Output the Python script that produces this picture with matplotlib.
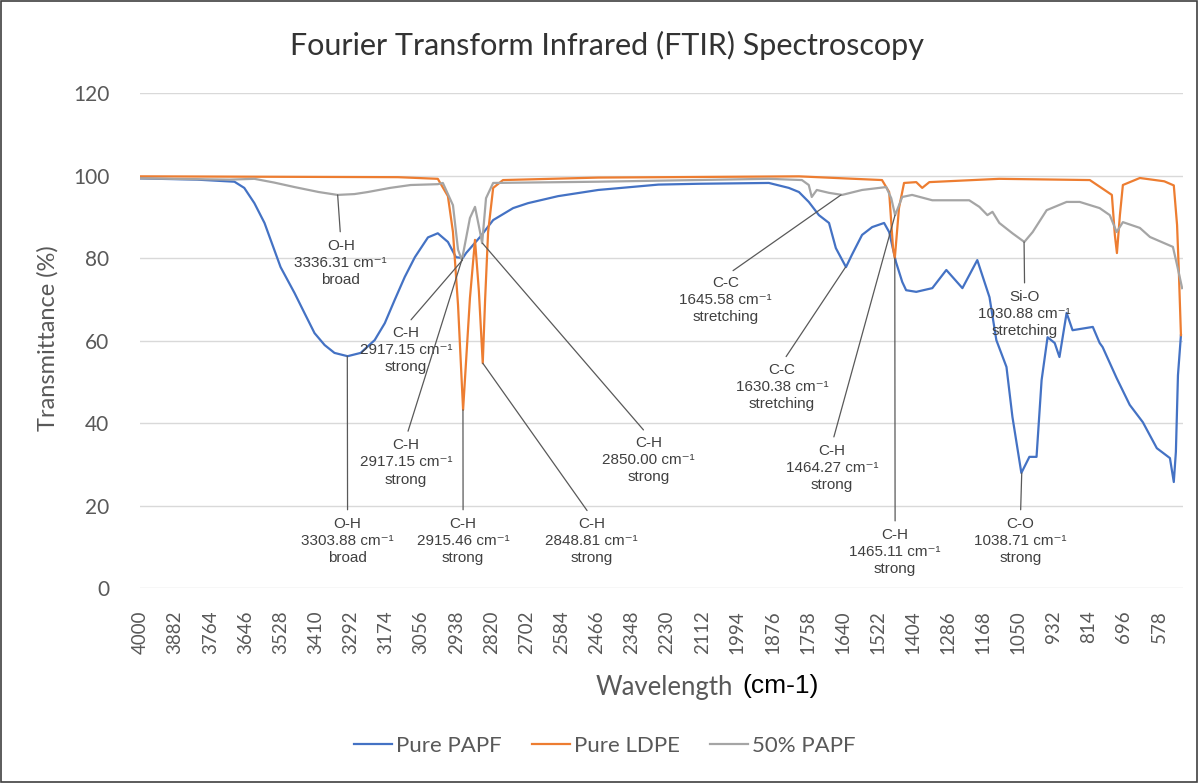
import numpy as np
import matplotlib
matplotlib.use("Agg")
import matplotlib.pyplot as plt
from matplotlib.patches import Rectangle

# --------------------------------
# DATA (wavenumber cm-1, transmittance %)
# --------------------------------

papf_wn = [4000, 3808, 3683, 3650, 3616, 3582, 3528, 3481, 3448, 3414, 3380,
           3347, 3303, 3259, 3212, 3178, 3145, 3111, 3077, 3033, 3000, 2966,
           2939, 2916, 2905, 2858, 2814, 2747, 2697, 2596, 2461, 2259, 2124,
           1888, 1821, 1787, 1754, 1720, 1686, 1663, 1629, 1609, 1575, 1541,
           1501, 1484, 1461, 1440, 1427, 1393, 1339, 1292, 1238, 1188, 1147,
           1124, 1090, 1070, 1040, 1013, 989, 972, 952, 928, 912, 888, 868,
           800, 777, 767, 720, 676, 632, 585, 541, 528, 521, 514, 504]
papf_t = [99.3, 99.0, 98.5, 97.0, 93.3, 88.5, 77.8, 71.5, 66.7, 61.8, 58.9,
          57.0, 56.2, 57.0, 60.1, 64.2, 69.8, 75.4, 80.2, 85.0, 86.0, 83.9,
          80.2, 80.0, 81.2, 85.1, 89.2, 92.1, 93.3, 95.0, 96.5, 97.8, 98.0,
          98.2, 97.0, 96.0, 93.6, 90.4, 88.5, 82.4, 77.8, 80.8, 85.6, 87.5,
          88.5, 86.3, 79.0, 74.2, 72.2, 71.8, 72.7, 77.1, 72.7, 79.5, 70.5,
          60.1, 53.6, 41.5, 27.9, 31.8, 31.8, 50.4, 60.8, 59.4, 56.0, 66.7,
          62.5, 63.3, 59.4, 58.4, 50.9, 44.4, 40.2, 33.9, 31.5, 25.7, 33.0,
          51.6, 61.3]

ldpe_wn = [4000, 3134, 3000, 2966, 2949, 2932, 2915, 2892, 2875, 2862, 2849,
           2841, 2831, 2814, 2781, 2461, 1787, 1508, 1484, 1471, 1465, 1451,
           1434, 1393, 1373, 1349, 1114, 810, 736, 726, 719, 709, 699, 642,
           560, 528, 517, 511, 504]
ldpe_t = [99.8, 99.6, 99.2, 95.0, 86.3, 68.6, 43.2, 70.3, 84.4, 72.0, 54.5,
          70.0, 86.3, 97.0, 98.9, 99.5, 99.8, 98.9, 96.0, 82.4, 80.0, 92.1,
          98.2, 98.4, 97.0, 98.4, 99.2, 98.9, 95.3, 85.6, 81.2, 90.4, 97.7,
          99.4, 98.6, 97.6, 88.0, 76.6, 61.3]

mix_wn = [4000, 3700, 3616, 3550, 3481, 3400, 3337, 3280, 3235, 3160, 3091,
          3000, 2983, 2949, 2932, 2919, 2892, 2875, 2858, 2851, 2838, 2814,
          2461, 1888, 1777, 1754, 1744, 1727, 1686, 1642, 1575, 1494, 1477,
          1464, 1440, 1407, 1339, 1215, 1181, 1154, 1137, 1114, 1070, 1030,
          1002, 955, 888, 844, 777, 743, 720, 699, 642, 608, 531, 517, 500]
mix_t = [99.3, 99.0, 99.2, 98.3, 97.2, 96.0, 95.3, 95.5, 96.0, 97.0, 97.7,
         97.9, 98.2, 92.8, 82.0, 79.5, 89.7, 92.4, 86.3, 83.6, 94.5, 98.2,
         98.5, 99.2, 98.9, 97.7, 94.8, 96.5, 95.8, 95.3, 96.5, 97.2, 94.5,
         90.4, 94.8, 95.3, 94.0, 94.0, 92.4, 90.4, 91.2, 88.5, 86.0, 83.9,
         86.3, 91.6, 93.6, 93.6, 92.1, 90.4, 86.3, 88.7, 87.3, 85.1, 82.7,
         78.3, 72.7]

series_names = ["Pure PAPF", "Pure LDPE", "50% PAPF"]
series_colors = ["#4472C4", "#ED7D31", "#A5A5A5"]

x_ticks = list(range(4000, 500, -118))
y_ticks = [0, 20, 40, 60, 80, 100, 120]

# --------------------------------
# PEAK LABELS: text, peak (wn, T), label centre (wn, T)
# --------------------------------

peak_text = [
    "O-H\n3336.31 cm\u207b\u00b9\nbroad",
    "C-H\n2917.15 cm\u207b\u00b9\nstrong",
    "C-H\n2917.15 cm\u207b\u00b9\nstrong",
    "C-H\n2850.00 cm\u207b\u00b9\nstrong",
    "O-H\n3303.88 cm\u207b\u00b9\nbroad",
    "C-H\n2915.46 cm\u207b\u00b9\nstrong",
    "C-H\n2848.81 cm\u207b\u00b9\nstrong",
    "C-C\n1645.58 cm\u207b\u00b9\nstretching",
    "C-C\n1630.38 cm\u207b\u00b9\nstretching",
    "C-H\n1464.27 cm\u207b\u00b9\nstrong",
    "C-H\n1465.11 cm\u207b\u00b9\nstrong",
    "Si-O\n1030.88 cm\u207b\u00b9\nstretching",
    "C-O\n1038.71 cm\u207b\u00b9\nstrong",
]
peak_xy = [(3336.31, 95.3), (2917.15, 79.5), (2917.15, 80.0), (2850.00, 83.6),
           (3303.88, 56.2), (2915.46, 43.2), (2848.81, 54.5), (1645.58, 95.3),
           (1630.38, 77.8), (1464.27, 90.4), (1465.11, 80.0), (1030.88, 83.9),
           (1038.71, 27.9)]
label_xy = [(3326, 78.8), (3107, 57.7), (3107, 30.5), (2292, 31.0),
            (3303, 11.4), (2915, 11.4), (2484, 11.4), (2033, 69.8),
            (1844, 48.7), (1676, 29.1), (1464, 8.7), (1029, 66.4),
            (1043, 11.4)]

# --------------------------------
# FIGURE
# --------------------------------

fig = plt.figure(figsize=(11.98, 7.83), dpi=100)
ax = fig.add_axes([0.1169, 0.249, 0.8706, 0.6322])

ax.plot(papf_wn, papf_t, color=series_colors[0], lw=1.6, label=series_names[0])
ax.plot(ldpe_wn, ldpe_t, color=series_colors[1], lw=1.6, label=series_names[1])
ax.plot(mix_wn, mix_t, color=series_colors[2], lw=1.6, label=series_names[2])

ax.set_xlim(4000, 497)
ax.set_ylim(0, 120)
ax.set_xticks(x_ticks)
ax.set_xticklabels([str(v) for v in x_ticks], rotation=90,
                   family="Lato", fontsize=13.5, color="#595959")
ax.set_yticks(y_ticks)
ax.set_yticklabels([str(v) for v in y_ticks],
                   family="Lato", fontsize=15, color="#595959")
ax.tick_params(axis="both", length=0)
ax.tick_params(axis="x", pad=16)
ax.tick_params(axis="y", pad=22)

ax.grid(axis="y", color="#d9d9d9", lw=1)
ax.set_axisbelow(True)
for s in ax.spines.values():
    s.set_visible(False)

# --------------------------------
# PEAK ANNOTATIONS
# --------------------------------

for txt, pxy, lxy in zip(peak_text, peak_xy, label_xy):
    ax.annotate(txt, xy=pxy, xytext=lxy, ha="center", va="center",
                family=["Liberation Sans", "DejaVu Sans"], fontsize=11,
                color="#404040", linespacing=1.3,
                arrowprops=dict(arrowstyle="-", color="#595959", lw=0.9,
                                shrinkA=3, shrinkB=0, relpos=(0.5, 1)))

# --------------------------------
# TEXTS
# --------------------------------

fig.text(0.5067, 0.9425, "Fourier Transform Infrared (FTIR) Spectroscopy",
         ha="center", va="center", family="Lato", fontsize=22, color="#333333")
fig.text(48 / 1198, 1 - 338 / 783, "Transmittance (%)", rotation=90,
         ha="center", va="center", family="Lato", fontsize=17, color="#595959")
fig.text(664 / 1198, 1 - 688 / 783, "Wavelength", ha="center", va="center",
         family="Lato", fontsize=18.5, color="#595959")
fig.text(742 / 1198, 1 - 686 / 783, "(cm-1)", ha="left", va="center",
         family="Liberation Sans", fontsize=19, color="black")

fig.legend(loc="center", bbox_to_anchor=(0.505, 0.047), ncol=3, frameon=False,
           prop={"family": "Lato", "size": 16}, labelcolor="#595959",
           handlelength=1.7, handletextpad=0.2, columnspacing=1.35)

fig.patches.append(Rectangle((0.001, 0.001), 0.998, 0.998, fill=False,
                             edgecolor="#404040", lw=1.2,
                             transform=fig.transFigure, figure=fig))

fig.savefig("out.png", dpi=100)
